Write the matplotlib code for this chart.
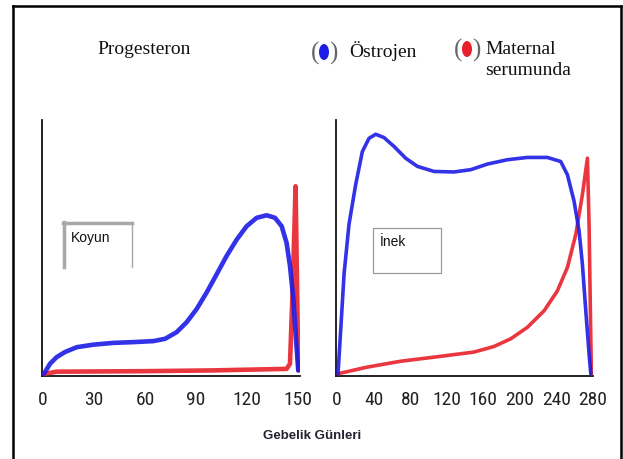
import matplotlib
matplotlib.use("Agg")
import matplotlib.pyplot as plt
from matplotlib import font_manager
from matplotlib.patches import Ellipse, Rectangle
from matplotlib.lines import Line2D

# ---- data (arbitrary units 0-100) ----
sheep_ticks = [0, 30, 60, 90, 120, 150]
sheep_estrogen_day = [0.6, 4.1, 8, 12.9, 19.8, 29.6, 41.4, 53.1, 64.9, 71.8, 78.6, 84.5, 90.4, 96.3,
                      102.2, 108, 114, 119.8, 125.7, 131.6, 136.5, 140.4, 143.3, 145.3, 147.3, 148.8, 150.2]
sheep_estrogen_val = [0.4, 4.3, 6.9, 8.9, 10.8, 11.8, 12.5, 12.8, 13.2, 14.1, 16.7, 20.6, 25.8, 32.3,
                      39.5, 46.6, 53.1, 58.3, 61.6, 62.6, 61.6, 58.3, 51.8, 42.7, 29.7, 14.1, 1.7]
sheep_serum_day = [0.6, 8, 60, 100, 143.3, 145.3, 146.9, 148.6, 149.2, 150.2]
sheep_serum_val = [0.3, 1.2, 1.4, 1.7, 2.3, 4.3, 33.6, 74, 46.6, 1.7]

cow_ticks = [0, 40, 80, 120, 160, 200, 240, 280]
cow_estrogen_day = [1.1, 4, 7.7, 13.1, 20.4, 27.7, 35, 42.3, 51.4, 62.4, 75.1, 87.9, 106.1, 128, 146.3,
                    164.5, 186.3, 208.2, 230.1, 244.7, 252, 259.3, 264.8, 268.4, 272.1, 275.7, 277.6]
cow_estrogen_val = [0.4, 17.3, 39.5, 59, 74.6, 87.6, 92.8, 94.4, 93.1, 89.6, 85, 81.8, 79.8, 79.6, 80.5,
                    82.7, 84.4, 85.3, 85.3, 83.7, 78.5, 68.1, 56.4, 43.4, 25.1, 8.2, 0.4]
cow_serum_day = [1.1, 33.2, 69.7, 106.1, 149.9, 171.8, 190, 208.2, 226.5, 241, 252, 261.2, 268.4,
                 273.9, 275.7, 276.8, 278.2]
cow_serum_val = [0.4, 3, 5.3, 6.9, 8.9, 11.1, 14.1, 18.6, 25.1, 32.9, 42.1, 55.1, 70.7,
                 85, 59, 32.9, 0.4]

legend_title = "Progesteron"
legend_labels = ["Östrojen", "Maternal\nserumunda"]
panel_labels = ["Koyun", "İnek"]
xlabel = "Gebelik Günleri"

BLUE = "#1c1ce6"
RED = "#e8202a"

W, H = 623, 459
fig = plt.figure(figsize=(W / 100, H / 100), dpi=100)


def fx(px):
    return px / W


def fy(py):
    return 1 - py / H


# pick a condensed font for tick labels
names = {f.name for f in font_manager.fontManager.ttflist}
tick_font = "DejaVu Sans"
for cand in ["Roboto Condensed", "Liberation Sans Narrow", "DejaVu Sans Condensed", "Open Sans Condensed"]:
    if cand in names:
        tick_font = cand
        break


def make_axes(rect, xlim, ticks):
    ax = fig.add_axes(rect)
    ax.set_xlim(*xlim)
    ax.set_ylim(-0.5, 100)
    for s in ["top", "right"]:
        ax.spines[s].set_visible(False)
    for s in ["left", "bottom"]:
        ax.spines[s].set_linewidth(1.3)
        ax.spines[s].set_color("#111111")
    ax.set_yticks([])
    ax.set_xticks(ticks)
    ax.set_xticklabels([str(t) for t in ticks], fontsize=14, family=tick_font, color="#222222")
    ax.tick_params(axis="x", length=0, pad=11)
    ax.patch.set_alpha(0)
    return ax


ax1 = make_axes([fx(42), fy(376), fx(300) - fx(42), fy(120) - fy(376)], (-0.6, 151.2), sheep_ticks)
ax2 = make_axes([fx(336), fy(376), fx(593) - fx(336), fy(120) - fy(376)], (-1.1, 280.0), cow_ticks)

for ax, ed, ev, sd, sv, lw in [
    (ax1, sheep_estrogen_day, sheep_estrogen_val, sheep_serum_day, sheep_serum_val, 3.3),
    (ax2, cow_estrogen_day, cow_estrogen_val, cow_serum_day, cow_serum_val, 2.6),
]:
    ax.plot(sd, sv, color=RED, lw=lw, solid_joinstyle="round", solid_capstyle="round", alpha=0.9, zorder=3)
    ax.plot(ed, ev, color=BLUE, lw=lw, solid_joinstyle="round", solid_capstyle="round", alpha=0.9, zorder=4)

# panel label boxes
gray = "#a8a8a8"
fig.add_artist(Line2D([fx(64), fx(64)], [fy(222), fy(267)], color=gray, lw=2.5))
fig.add_artist(Line2D([fx(63), fx(132)], [fy(223), fy(223)], color=gray, lw=2.5))
fig.add_artist(Line2D([fx(131.5), fx(131.5)], [fy(222), fy(267)], color=gray, lw=1.0))
fig.text(fx(71), fy(238), panel_labels[0], fontsize=10, family="Liberation Sans", va="center", ha="left", color="#111111")

fig.add_artist(Rectangle((fx(373), fy(273)), fx(441) - fx(373), fy(228) - fy(273), fill=False, ec="#999999", lw=0.9))
fig.text(fx(380), fy(242), panel_labels[1], fontsize=10, family="Liberation Sans", va="center", ha="left", color="#111111")

# legend
serif = "Liberation Serif"
fig.text(fx(97), fy(49), legend_title, fontsize=14, family=serif, va="center", ha="left", color="#111111")
for cx, cy, col in [(324, 52, BLUE), (467, 49, RED)]:
    fig.text(fx(cx - 9), fy(cy + 1), "(", fontsize=18, family=serif, va="center", ha="center", color="#666666")
    fig.text(fx(cx + 9), fy(cy + 1), ")", fontsize=18, family=serif, va="center", ha="center", color="#666666")
    fig.add_artist(Ellipse((fx(cx), fy(cy)), 10 / W, 16 / H, color=col, lw=0))
fig.text(fx(349), fy(51), legend_labels[0], fontsize=14, family=serif, va="center", ha="left", color="#111111")
fig.text(fx(485), fy(60), legend_labels[1], fontsize=14, family=serif, va="center", ha="left",
         color="#111111", linespacing=1.25)

# x label
fig.text(fx(312), fy(436), xlabel, fontsize=9.5, family="Liberation Sans", weight="bold",
         va="center", ha="center", color="#222233")

# outer frame
flw = 1.8
fig.add_artist(Line2D([fx(13.5), fx(13.5)], [fy(6), 0], color="black", lw=flw))
fig.add_artist(Line2D([fx(620.5), fx(620.5)], [fy(6), 0], color="black", lw=flw))
fig.add_artist(Line2D([fx(12.6), fx(621.4)], [fy(6), fy(6)], color="black", lw=flw))

fig.savefig("out.png", dpi=100)
